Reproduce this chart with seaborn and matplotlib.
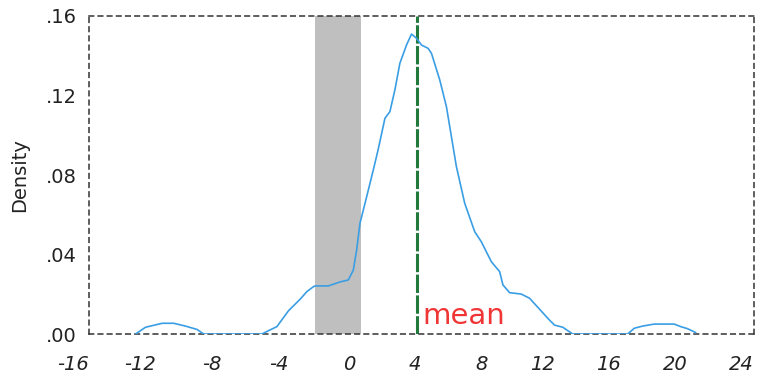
import numpy as np
import pandas as pd
import seaborn as sns
import matplotlib
matplotlib.use("Agg")
from matplotlib import pyplot as plt

sns.set_theme(style="white")
plt.rcParams['font.family'] = ['DejaVu Sans']

# density curve
xs = [-13.2, -12.6, -11.6, -10.9, -10.2, -9.5, -9.1, -5.6, -5.2, -4.7, -4.0,
      -3.3, -2.9, -2.5, -2.4, -1.6, -0.9, -0.4, -0.1, 0.1, 0.3, 0.7, 1.1,
      1.4, 1.8, 2.1, 2.4, 2.7, 3.1, 3.4, 3.7, 4.0, 4.4, 4.6, 5.1, 5.5, 6.1,
      6.6, 7.2, 7.6, 8.2, 8.7, 8.9, 9.3, 10.0, 10.5, 11.1, 11.7, 12.0, 12.5,
      13.1, 16.4, 16.8, 17.3, 18.0, 19.2, 19.6, 20.0, 20.5]
density = [0.0, 0.0034, 0.0054, 0.0054, 0.0040, 0.0023, 0.0, 0.0, 0.0017,
           0.0037, 0.0117, 0.0175, 0.0213, 0.0238, 0.0242, 0.0242, 0.0262,
           0.0272, 0.0322, 0.0423, 0.0557, 0.0690, 0.0825, 0.0930, 0.1085,
           0.1119, 0.1228, 0.1362, 0.1454, 0.1509, 0.1488, 0.1454, 0.1437,
           0.1412, 0.1278, 0.1144, 0.0842, 0.0658, 0.0515, 0.0464, 0.0364,
           0.0314, 0.0247, 0.0208, 0.0201, 0.0180, 0.0125, 0.0070, 0.0045,
           0.0034, 0.0, 0.0, 0.0029, 0.0040, 0.0050, 0.0050, 0.0037, 0.0027,
           0.0007]
band = (-2.41, 0.36)
mean_x = 3.73
xticks = [-16, -12, -8, -4, 0, 4, 8, 12, 16, 20, 24]
yticks = [0.0, 0.04, 0.08, 0.12, 0.16]
ytick_labels = ['.00', '.04', '.08', '.12', '.16']

df = pd.DataFrame({'x': xs, 'density': density})

fig = plt.figure(figsize=(7.58, 3.77), dpi=100)
ax = fig.add_axes([0.1174, 0.114, 0.8773, 0.8436])

ax.axvspan(band[0], band[1], color='#bfbfbf', lw=0, zorder=1)
sns.lineplot(data=df, x='x', y='density', color='#3a9ee4', lw=1.2, ax=ax, zorder=3)
ax.axvline(mean_x, color='#217a3c', lw=2.2, ls=(0, (6, 0.8)), zorder=2)
ax.text(mean_x + 0.35, 0.002, 'mean', color='#f03535', fontsize=21, ha='left', va='bottom')

ax.set_xlim(-16, 24)
ax.set_ylim(0, 0.16)
ax.set_xticks(xticks)
ax.set_xticklabels([str(t) for t in xticks], fontstyle='italic', ha='right', fontsize=14, color='#222222')
ax.set_yticks(yticks)
ax.set_yticklabels(ytick_labels, fontsize=14, color='#222222')
ax.tick_params(axis='x', length=0, pad=15)
ax.tick_params(axis='y', length=0, pad=9)

ax.set_xlabel('')
ax.set_ylabel('Density', fontsize=14, color='#222222')
ax.yaxis.set_label_coords(-0.09, 0.5)

for sp in ax.spines.values():
    sp.set_visible(True)
    sp.set_color('#333333')
    sp.set_linewidth(1.1)
    sp.set_linestyle((0, (3, 3)))

fig.savefig('out.png', dpi=100)
